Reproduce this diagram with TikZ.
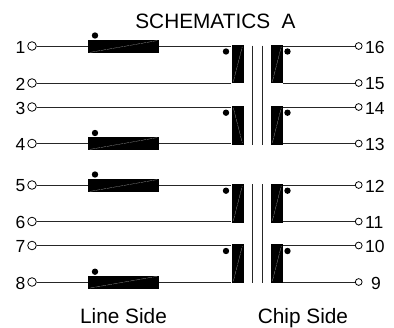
\documentclass[tikz,border=0pt]{standalone}
\usepackage{fontspec}
\setmainfont{Liberation Sans}
\usetikzlibrary{calc}
\tikzset{
  pin/.style={circle,draw=black,line width=0.8pt,minimum size=8.6pt,inner sep=0pt,fill=white},
  pinr/.style={pin,minimum size=6.8pt},
  hcoil/.style={rectangle,fill=black,minimum width=71pt,minimum height=13pt,inner sep=0pt},
  vcoil/.style={rectangle,fill=black,minimum width=12.5pt,minimum height=38.5pt,inner sep=0pt},
  dotmark/.style={circle,fill=black,minimum size=6.4pt,inner sep=0pt},
  wire/.style={line width=1pt,black!85},
  core/.style={line width=0.9pt,black!85},
  slant/.style={line width=0.25pt,black!35,dash pattern=on 5pt off 0.8pt},
  pinlabel/.style={font=\fontsize{17.5}{18}\selectfont,inner sep=0pt},
  caption/.style={font=\fontsize{20.8}{21}\selectfont,inner sep=0pt}
}
\begin{document}
\begin{tikzpicture}[x=1pt,y=-1pt]
\useasboundingbox (0,0) rectangle (394,327);
\node[caption] (title) at (215.5,21.5) {SCHEMATICS\ \ A};
\node[caption,anchor=base] (line) at (123.5,323) {Line Side};
\node[caption,anchor=base] (chip) at (303,323) {Chip Side};

% left terminals
\foreach \n/\y in {1/46,2/83,3/107,4/143.5,5/185,6/221.5,7/245.5,8/282}{
  \node[pin] (p\n) at (32,\y) {};
  \node[pinlabel,anchor=east] (lp\n) at (25.5,\y+1) {\n};
}
% right terminals
\foreach \n/\y in {16/46,15/83,14/107,13/143.5,12/185,11/221.5,10/245.5,9/282}{
  \node[pinr] (p\n) at (358.7,\y) {};
}
\foreach \n/\y in {16/46,15/83,14/107,13/143.5,12/185,11/221.5,10/245.5}{
  \node[pinlabel,anchor=west] (lp\n) at (365,\y+1) {\n};
}
\node[pinlabel,anchor=west] (lp9) at (371,283) {9};

% horizontal coils
\foreach \c/\y/\d in {a/46.5/35.5,b/143.5/133,c/185.5/174.5,d/282.2/271.7}{
  \node[hcoil] (h\c) at (123.5,\y) {};
  \node[dotmark] (hd\c) at (95,\d) {};
  \draw[slant] ($(h\c.south west)+(2,-0.8)$) -- ($(h\c.north east)+(-2,0.8)$);
}
% vertical coils
\foreach \c/\y in {a/64.2,b/125.3,c/203.3,d/263.7}{
  \node[vcoil] (vl\c) at (237.8,\y) {};
  \node[vcoil] (vr\c) at (276.8,\y) {};
  \draw[slant] ($(vr\c.south west)+(2,-2)$) -- ($(vr\c.north east)+(-2,2)$);
}
\foreach \c in {a,c,d}{
  \draw[slant] ($(vl\c.south west)+(2,-2)$) -- ($(vl\c.north east)+(-2,2)$);
}
\draw[slant] ($(vlb.north west)+(2,2)$) -- ($(vlb.south east)+(-2,-2)$);

% polarity dots
\foreach \c/\y in {a/51.5,b/112.7,c/190.7,d/251}{
  \node[dotmark] (dl\c) at (226,\y) {};
  \node[dotmark] (dr\c) at (287.5,\y) {};
}

% core
\foreach \c/\t/\b in {a/45.5/144.5,b/184/283}{
  \coordinate (c1t\c) at (252,\t); \coordinate (c1b\c) at (252,\b);
  \coordinate (c2t\c) at (262,\t); \coordinate (c2b\c) at (262,\b);
  \draw[core] (c1t\c) -- (c1b\c);
  \draw[core] (c2t\c) -- (c2b\c);
}

% wires, line side
\draw[wire] (p1.east) -- (p1 -| ha.west);
\draw[wire] (ha.east |- p1) -- (p1 -| vla.west);
\draw[wire] (p2.east) -- (p2 -| vla.west);
\draw[wire] (p3.east) -- (p3 -| vlb.west);
\draw[wire] (p4.east) -- (p4 -| hb.west);
\draw[wire] (hb.east |- p4) -- (p4 -| vlb.west);
\draw[wire] (p5.east) -- (p5 -| hc.west);
\draw[wire] (hc.east |- p5) -- (p5 -| vlc.west);
\draw[wire] (p6.east) -- (p6 -| vlc.west);
\draw[wire] (p7.east) -- (p7 -| vld.west);
\draw[wire] (p8.east) -- (p8 -| hd.west);
\draw[wire] (hd.east |- p8) -- (p8 -| vld.west);

% wires, chip side
\draw[wire] (p16.west) -- (p16 -| vra.east);
\draw[wire] (p15.west) -- (p15 -| vra.east);
\draw[wire] (p14.west) -- (p14 -| vrb.east);
\draw[wire] (p13.west) -- (p13 -| vrb.east);
\draw[wire] (p12.west) -- (p12 -| vrc.east);
\draw[wire] (p11.west) -- (p11 -| vrc.east);
\draw[wire] (p10.west) -- (p10 -| vrd.east);
\draw[wire] (p9.west) -- (p9 -| vrd.east);
\end{tikzpicture}
\end{document}
